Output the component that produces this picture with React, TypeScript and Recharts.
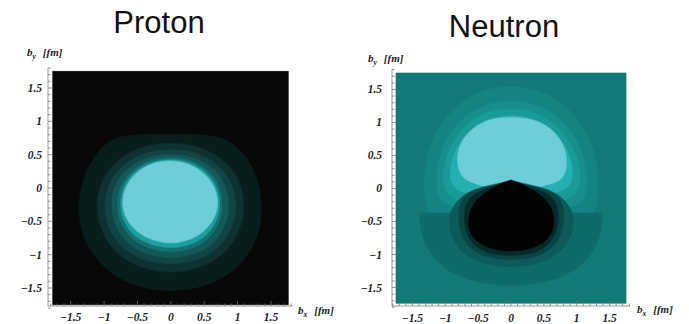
import { ScatterChart, Scatter, XAxis, YAxis } from 'recharts';

type Pt = [number, number];

interface Level {
	pts: Pt[];
	color: string;
	curve?: 'basisClosed' | 'linearClosed';
}

// frame ticks (b in fm)
const MAJOR_TICKS = [-1.5, -1, -0.5, 0, 0.5, 1, 1.5];
const MAJOR_LABELS = ['\u22121.5', '\u22121', '\u22120.5', '0', '0.5', '1', '1.5'];
const FRAME_TICKS = [
	-1.8, -1.7, -1.6, -1.5, -1.4, -1.3, -1.2, -1.1, -1.0, -0.9, -0.8, -0.7, -0.6, -0.5, -0.4, -0.3, -0.2, -0.1, 0,
	0.1, 0.2, 0.3, 0.4, 0.5, 0.6, 0.7, 0.8, 0.9, 1.0, 1.1, 1.2, 1.3, 1.4, 1.5, 1.6, 1.7, 1.8,
];

// ---- proton contours, outer -> inner ----
const PROTON_FIELD: Pt[] = [[-1.77, -1.75], [1.76, -1.75], [1.76, 1.75], [-1.77, 1.75]];
const PROTON_L1: Pt[] = [
	[-0.7, 0.8], [0, 0.81], [0.62, 0.8], [0.9, 0.7], [1.13, 0.48], [1.29, 0.18], [1.36, -0.15], [1.36, -0.5],
	[1.26, -0.85], [1.05, -1.15], [0.75, -1.38], [0.38, -1.51], [0, -1.55], [-0.38, -1.51], [-0.75, -1.38],
	[-1.05, -1.15], [-1.27, -0.85], [-1.38, -0.5], [-1.38, -0.15], [-1.3, 0.18], [-1.15, 0.48], [-0.95, 0.7],
];
const PROTON_L2: Pt[] = [
	[0, 0.69], [0.43, 0.63], [0.79, 0.44], [1.03, 0.14], [1.12, -0.25], [1.04, -0.65], [0.82, -0.99], [0.45, -1.21],
	[0, -1.28], [-0.45, -1.21], [-0.83, -0.99], [-1.05, -0.65], [-1.13, -0.25], [-1.04, 0.14], [-0.8, 0.44], [-0.43, 0.63],
];
const PROTON_L3: Pt[] = [
	[0, 0.59], [0.39, 0.54], [0.71, 0.36], [0.92, 0.09], [1.0, -0.27], [0.92, -0.62], [0.72, -0.92], [0.39, -1.1],
	[0, -1.15], [-0.39, -1.1], [-0.73, -0.92], [-0.94, -0.62], [-1.01, -0.27], [-0.93, 0.09], [-0.72, 0.36], [-0.39, 0.54],
];
const PROTON_L4: Pt[] = [
	[0, 0.52], [0.35, 0.47], [0.64, 0.31], [0.82, 0.07], [0.89, -0.26], [0.82, -0.58], [0.64, -0.85], [0.35, -1.01],
	[0, -1.06], [-0.35, -1.01], [-0.65, -0.85], [-0.84, -0.58], [-0.91, -0.26], [-0.84, 0.07], [-0.65, 0.31], [-0.35, 0.47],
];
const PROTON_L5: Pt[] = [
	[0, 0.47], [0.31, 0.42], [0.57, 0.27], [0.73, 0.05], [0.79, -0.25], [0.73, -0.54], [0.57, -0.78], [0.31, -0.92],
	[0, -0.97], [-0.31, -0.92], [-0.58, -0.78], [-0.76, -0.54], [-0.82, -0.25], [-0.76, 0.05], [-0.58, 0.27], [-0.32, 0.42],
];
const PROTON_L6: Pt[] = [
	[0, 0.44], [0.29, 0.39], [0.53, 0.25], [0.69, 0.04], [0.75, -0.24], [0.69, -0.51], [0.53, -0.73], [0.29, -0.86],
	[0, -0.91], [-0.29, -0.86], [-0.55, -0.73], [-0.71, -0.51], [-0.77, -0.24], [-0.71, 0.04], [-0.55, 0.25], [-0.3, 0.39],
];
const PROTON_CORE: Pt[] = [
	[0, 0.42], [0.27, 0.37], [0.5, 0.23], [0.66, 0.03], [0.72, -0.22], [0.66, -0.46], [0.5, -0.66], [0.27, -0.79],
	[0, -0.84], [-0.27, -0.79], [-0.52, -0.66], [-0.68, -0.46], [-0.74, -0.22], [-0.68, 0.03], [-0.52, 0.24], [-0.28, 0.38],
];

// ---- neutron contours: positive lobe first, then negative lobe ----
const NEUTRON_FIELD: Pt[] = [[-1.75, -1.74], [1.75, -1.74], [1.75, 1.75], [-1.75, 1.75]];
const NEUTRON_U1: Pt[] = [
	[0, 1.57], [0.5, 1.48], [0.9, 1.21], [1.18, 0.82], [1.31, 0.4], [1.33, 0.0], [1.3, -0.35], [1.1, -0.5], [0, -0.5],
	[-1.1, -0.5], [-1.29, -0.35], [-1.32, 0.0], [-1.31, 0.4], [-1.18, 0.82], [-0.9, 1.21], [-0.5, 1.48],
];
const NEUTRON_U2: Pt[] = [
	[0, 1.35], [0.45, 1.27], [0.8, 1.03], [1.04, 0.68], [1.16, 0.3], [1.15, -0.05], [1.06, -0.3], [0, -0.4],
	[-1.04, -0.3], [-1.13, -0.05], [-1.14, 0.3], [-1.03, 0.68], [-0.8, 1.03], [-0.45, 1.27],
];
const NEUTRON_U3: Pt[] = [
	[0, 1.23], [0.4, 1.16], [0.72, 0.95], [0.95, 0.63], [1.06, 0.3], [1.04, 0.0], [0.9, -0.2], [0, -0.3],
	[-0.9, -0.2], [-1.03, 0.0], [-1.04, 0.3], [-0.94, 0.63], [-0.72, 0.95], [-0.4, 1.16],
];
const NEUTRON_U4: Pt[] = [
	[0, 1.12], [0.37, 1.06], [0.66, 0.87], [0.87, 0.58], [0.95, 0.3], [0.92, 0.06], [0.76, -0.08], [0, -0.15],
	[-0.76, -0.08], [-0.92, 0.06], [-0.93, 0.3], [-0.86, 0.58], [-0.65, 0.87], [-0.37, 1.06],
];
const NEUTRON_UCORE: Pt[] = [
	[0, 1.09], [0.36, 1.05], [0.62, 0.91], [0.79, 0.7], [0.86, 0.45], [0.83, 0.2], [0.7, 0.08], [0.3, 0.0], [0, -0.02],
	[-0.3, 0.0], [-0.64, 0.1], [-0.78, 0.2], [-0.83, 0.45], [-0.77, 0.7], [-0.6, 0.91], [-0.35, 1.05],
];
const NEUTRON_D1: Pt[] = [
	[-1.39, -0.37], [-1.39, -0.37], [-0.7, -0.37], [0, -0.37], [0.7, -0.37], [1.4, -0.37], [1.4, -0.37],
	[1.38, -0.62], [1.28, -0.92], [1.06, -1.19], [0.72, -1.37], [0.36, -1.45], [0, -1.47], [-0.36, -1.45],
	[-0.72, -1.37], [-1.06, -1.19], [-1.28, -0.92], [-1.38, -0.62],
];
const NEUTRON_D2: Pt[] = [
	[-0.95, -0.38], [-0.8, -0.16], [-0.62, -0.03], [-0.35, 0.04], [-0.15, 0.09], [0, 0.11], [0.15, 0.09],
	[0.35, 0.04], [0.62, -0.03], [0.81, -0.16], [0.96, -0.38], [0.95, -0.62], [0.84, -0.88], [0.61, -1.07],
	[0.32, -1.16], [0, -1.19], [-0.32, -1.16], [-0.61, -1.07], [-0.84, -0.88], [-0.94, -0.62],
];
const NEUTRON_D3: Pt[] = [
	[-0.8, -0.3], [-0.72, -0.12], [-0.56, -0.02], [-0.33, 0.03], [-0.15, 0.08], [0, 0.1], [0.15, 0.08],
	[0.33, 0.03], [0.56, -0.02], [0.73, -0.12], [0.81, -0.3], [0.8, -0.56], [0.72, -0.81], [0.51, -0.99],
	[0.27, -1.06], [0, -1.08], [-0.27, -1.06], [-0.51, -0.99], [-0.72, -0.81], [-0.8, -0.56],
];
const NEUTRON_D4: Pt[] = [
	[-0.71, -0.35], [-0.66, -0.17], [-0.51, -0.05], [-0.32, 0.01], [-0.15, 0.07], [0, 0.1], [0.15, 0.07],
	[0.32, 0.01], [0.51, -0.05], [0.67, -0.17], [0.72, -0.35], [0.72, -0.56], [0.64, -0.78], [0.46, -0.94],
	[0.24, -1.0], [0, -1.02], [-0.24, -1.0], [-0.46, -0.94], [-0.64, -0.78], [-0.71, -0.56],
];
const NEUTRON_CORE: Pt[] = [
	[0, 0.13], [0, 0.13], [0.15, 0.08], [0.3, -0.01], [0.46, -0.1], [0.59, -0.24], [0.66, -0.42], [0.65, -0.63],
	[0.54, -0.8], [0.31, -0.92], [0, -0.96], [-0.31, -0.92], [-0.54, -0.8], [-0.65, -0.63], [-0.65, -0.42],
	[-0.58, -0.24], [-0.45, -0.1], [-0.3, -0.01], [-0.15, 0.08],
];

const PROTON_LEVELS: Level[] = [
	{ pts: PROTON_FIELD, color: '#080808', curve: 'linearClosed' },
	{ pts: PROTON_L1, color: '#0a1d1d' },
	{ pts: PROTON_L2, color: '#0e3131' },
	{ pts: PROTON_L3, color: '#114444' },
	{ pts: PROTON_L4, color: '#135959' },
	{ pts: PROTON_L5, color: '#167272' },
	{ pts: PROTON_L6, color: '#1c9fa1' },
	{ pts: PROTON_CORE, color: '#6dcdd8' },
];

const NEUTRON_LEVELS: Level[] = [
	{ pts: NEUTRON_FIELD, color: '#127977', curve: 'linearClosed' },
	{ pts: NEUTRON_U1, color: '#148483' },
	{ pts: NEUTRON_U2, color: '#168f8d' },
	{ pts: NEUTRON_U3, color: '#1a9b9a' },
	{ pts: NEUTRON_U4, color: '#24afb0' },
	{ pts: NEUTRON_UCORE, color: '#6dcdd8' },
	{ pts: NEUTRON_D1, color: '#0f6b6a' },
	{ pts: NEUTRON_D2, color: '#0c5a59' },
	{ pts: NEUTRON_D3, color: '#094544' },
	{ pts: NEUTRON_D4, color: '#052a2a' },
	{ pts: NEUTRON_CORE, color: '#020404' },
];

const FRAME = '#9a9a9a';
const INK = '#1c1c2c';
const SERIF = '"Liberation Serif", "DejaVu Serif", serif';

function FrameTick(props: any) {
	const { x, y, payload, side, gap } = props;
	const v: number = payload.value;
	const idx = MAJOR_TICKS.findIndex((t) => Math.abs(t - v) < 1e-6);
	const len = idx >= 0 ? 5 : 2.5;
	const textProps = {
		fill: INK,
		fontFamily: SERIF,
		fontWeight: 700,
		fontStyle: 'italic',
		fontSize: 11.5,
		stroke: 'none',
	};
	let line;
	let label = null;
	if (side === 'bottom') {
		line = <line x1={x} x2={x} y1={y} y2={y - len} />;
		if (idx >= 0) label = <text x={x} y={y + gap} textAnchor="middle" {...textProps}>{MAJOR_LABELS[idx]}</text>;
	} else if (side === 'left') {
		line = <line x1={x} x2={x + len} y1={y} y2={y} />;
		if (idx >= 0) label = <text x={x - gap} y={y + 4} textAnchor="end" {...textProps}>{MAJOR_LABELS[idx]}</text>;
	} else if (side === 'top') {
		line = <line x1={x} x2={x} y1={y} y2={y + len} />;
	} else {
		line = <line x1={x} x2={x - len} y1={y} y2={y} />;
	}
	return (
		<g>
			<g stroke="#777" strokeWidth={0.8}>{line}</g>
			{label}
		</g>
	);
}

const Empty = () => <g />;

interface PanelProps {
	levels: Level[];
	width: number;
	height: number;
	margin: { top: number; right: number; bottom: number; left: number };
	xDomain: [number, number];
	yDomain: [number, number];
	xGap: number;
	yGap: number;
}

function Panel({ levels, width, height, margin, xDomain, yDomain, xGap, yGap }: PanelProps) {
	return (
		<ScatterChart width={width} height={height} margin={margin}>
			<XAxis type="number" dataKey="x" domain={xDomain} allowDataOverflow ticks={FRAME_TICKS} interval={0}
				tickSize={0} tickMargin={0} tickLine={false} height={18} stroke={FRAME}
				tick={<FrameTick side="bottom" gap={xGap} />} />
			<XAxis xAxisId="top" orientation="top" type="number" domain={xDomain} allowDataOverflow ticks={FRAME_TICKS}
				interval={0} tickSize={0} tickMargin={0} tickLine={false} height={0} stroke={FRAME}
				tick={<FrameTick side="top" />} />
			<YAxis type="number" dataKey="y" domain={yDomain} allowDataOverflow ticks={FRAME_TICKS} interval={0}
				tickSize={0} tickMargin={0} tickLine={false} width={40} stroke={FRAME}
				tick={<FrameTick side="left" gap={yGap} />} />
			<YAxis yAxisId="right" orientation="right" type="number" domain={yDomain} allowDataOverflow ticks={FRAME_TICKS}
				interval={0} tickSize={0} tickMargin={0} tickLine={false} width={0} stroke={FRAME}
				tick={<FrameTick side="right" />} />
			{levels.map((lv, i) => (
				<Scatter
					key={i}
					data={lv.pts.map(([x, y]) => ({ x, y }))}
					line={{ fill: lv.color, stroke: lv.color, strokeWidth: 0.6 }}
					lineType="joint"
					lineJointType={lv.curve ?? 'basisClosed'}
					shape={Empty}
					legendType="none"
					isAnimationActive={false}
				/>
			))}
		</ScatterChart>
	);
}

function AxisName({ x, y, sub }: { x: number; y: number; sub: string }) {
	return (
		<text x={x} y={y} fill={INK} fontFamily={SERIF} fontWeight={700} fontStyle="italic" fontSize={11}>
			b<tspan dy={2.5} fontSize={7.5}>{sub}</tspan>
			<tspan dy={-2.5} dx={7}>[fm]</tspan>
		</text>
	);
}

export default function App() {
	return (
		<div style={styles.page}>
			<svg width={689} height={324} style={styles.overlay}>
				<text x={159} y={33} textAnchor="middle" style={styles.title}>Proton</text>
				<text x={504} y={37} textAnchor="middle" style={styles.title}>Neutron</text>
				<AxisName x={27} y={56} sub="y" />
				<AxisName x={298} y={314} sub="x" />
				<AxisName x={368} y={62} sub="y" />
				<AxisName x={637} y={313} sub="x" />
			</svg>
			<div style={{ position: 'absolute', left: 0, top: 0 }}>
				<Panel
					levels={PROTON_LEVELS}
					width={350}
					height={324}
					margin={{ top: 68, right: 57, bottom: 0, left: 8 }}
					xDomain={[-1.84, 1.83]}
					yDomain={[-1.77, 1.8]}
					xGap={15}
					yGap={6}
				/>
			</div>
			<div style={{ position: 'absolute', left: 340, top: 0 }}>
				<Panel
					levels={NEUTRON_LEVELS}
					width={349}
					height={324}
					margin={{ top: 69, right: 59, bottom: 0, left: 12 }}
					xDomain={[-1.81, 1.81]}
					yDomain={[-1.78, 1.81]}
					xGap={16}
					yGap={10}
				/>
			</div>
		</div>
	);
}

const styles: Record<string, React.CSSProperties> = {
	page: {
		position: 'absolute',
		left: 0,
		top: 0,
		width: 689,
		height: 324,
		background: '#fff',
		overflow: 'hidden',
	},
	overlay: {
		position: 'absolute',
		left: 0,
		top: 0,
	},
	title: {
		fontFamily: '"Liberation Sans", Arial, sans-serif',
		fontSize: 31,
		fill: '#111',
	},
};
